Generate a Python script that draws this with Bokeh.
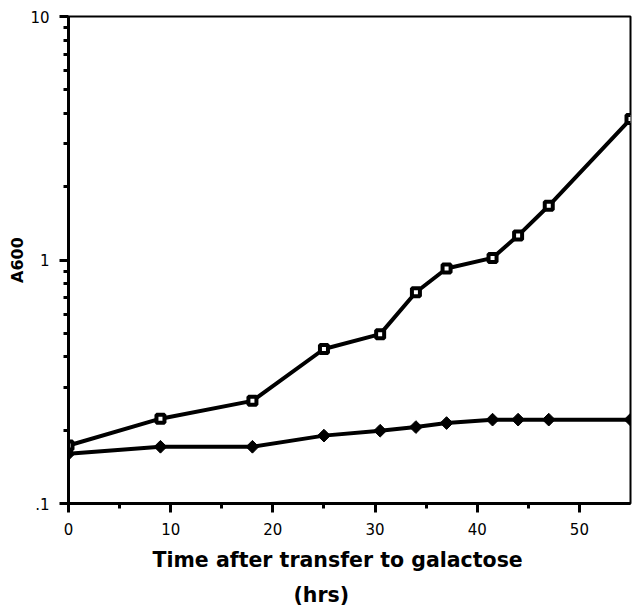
import math
from bokeh.plotting import figure
from bokeh.models import FixedTicker, Title
from bokeh.embed import file_html
from bokeh.resources import INLINE

# Data
hours_sq = [0, 9, 18, 25, 30.5, 34, 37, 41.5, 44, 47, 55]
a600_sq = [0.173, 0.223, 0.264, 0.431, 0.496, 0.737, 0.923, 1.02, 1.26, 1.67, 3.79]

hours_di = [0, 9, 18, 25, 30.5, 34, 37, 41.5, 44, 47, 55]
a600_di = [0.160, 0.171, 0.171, 0.190, 0.199, 0.206, 0.214, 0.221, 0.221, 0.221, 0.221]

x_major = [0, 10, 20, 30, 40, 50]
x_minor = [5, 15, 25, 35, 45]
y_major = [0.1, 1, 10]
y_minor = [0.2, 0.3, 0.4, 0.5, 0.6, 0.7, 0.8, 0.9, 2, 3, 4, 5, 6, 7, 8, 9]
y_labels = {0.1: ".1", 1: "1", 10: "10"}

x_title = "Time after transfer to galactose"
x_unit = "(hrs)"
y_title = "A600"

W, H = 632, 607
p = figure(width=W, height=H, x_range=(0, 55), y_range=(0.1, 10),
           y_axis_type="log", output_backend="svg", toolbar_location=None,
           min_border_left=68, min_border_right=2, min_border_top=16,
           min_border_bottom=H - 505)
p.grid.visible = False
p.outline_line_color = "black"
p.outline_line_width = 2
p.background_fill_color = "white"
p.border_fill_color = "white"

p.xaxis.ticker = FixedTicker(ticks=x_major, minor_ticks=x_minor)
p.yaxis.ticker = FixedTicker(ticks=y_major, minor_ticks=y_minor)
p.yaxis.major_label_overrides = y_labels

for ax in (p.xaxis, p.yaxis):
    ax.axis_line_width = 3
    ax.axis_line_color = "black"
    ax.major_tick_line_width = 3
    ax.minor_tick_line_width = 3
    ax.major_tick_in = 0
    ax.minor_tick_in = 0
    ax.major_tick_out = 9
    ax.minor_tick_out = 5
    ax.major_label_text_font = "DejaVu Sans"
    ax.major_label_text_font_size = "15px"
    ax.major_label_text_color = "black"
    ax.major_label_standoff = 10

p.yaxis.axis_label = y_title
p.yaxis.axis_label_text_font = "DejaVu Sans"
p.yaxis.axis_label_text_font_style = "bold"
p.yaxis.axis_label_text_font_size = "16px"
p.yaxis.axis_label_text_color = "black"
p.yaxis.axis_label_standoff = 0

# lines and markers
p.line(hours_sq, a600_sq, line_width=4, color="black")
p.scatter(hours_sq, a600_sq, marker="square", size=8, fill_color="white",
          line_color="black", line_width=4)
p.line(hours_di, a600_di, line_width=4, color="black")
p.scatter(hours_di, a600_di, marker="square", angle=math.pi / 4, size=9,
          fill_color="black", line_color="black", line_width=1)

p.add_layout(Title(text=x_title, align="left", offset=84,
                   text_font="DejaVu Sans", text_font_style="bold",
                   text_font_size="20.5px", text_color="black", standoff=16),
             "below")
p.add_layout(Title(text=x_unit, align="left", offset=225,
                   text_font="DejaVu Sans", text_font_style="bold",
                   text_font_size="20.5px", text_color="black", standoff=2),
             "below")

open("out.html", "w").write(file_html(p, INLINE))
